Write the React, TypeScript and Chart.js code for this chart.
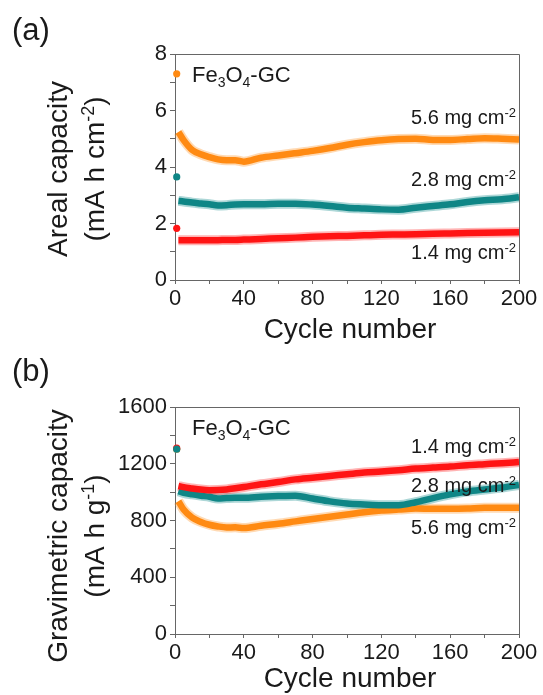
import React, { useEffect, useRef } from 'react';
import { Chart, registerables } from 'chart.js';

Chart.register(...registerables);

// ---------------- data ----------------
const cycles = [2, 5, 10, 15, 20, 25, 30, 35, 40, 50, 60, 70, 80, 90, 100, 110, 120, 130, 140, 150, 160, 170, 180, 190, 200];
const firstCycle = 1;

// Areal capacity (mA h cm-2)
const areal56 = [5.24, 4.95, 4.6, 4.45, 4.35, 4.27, 4.24, 4.24, 4.19, 4.33, 4.41, 4.49, 4.57, 4.67, 4.79, 4.88, 4.95, 4.99, 5.0, 4.96, 4.96, 4.99, 5.02, 5.0, 4.97];
const areal28 = [2.8, 2.78, 2.74, 2.71, 2.68, 2.64, 2.65, 2.67, 2.68, 2.68, 2.7, 2.7, 2.67, 2.62, 2.56, 2.53, 2.5, 2.49, 2.56, 2.62, 2.68, 2.76, 2.82, 2.86, 2.93];
const areal14 = [1.41, 1.41, 1.41, 1.41, 1.41, 1.41, 1.42, 1.42, 1.43, 1.45, 1.48, 1.5, 1.53, 1.55, 1.56, 1.58, 1.6, 1.61, 1.62, 1.64, 1.65, 1.66, 1.67, 1.68, 1.69];
const arealFirst = [7.3, 3.65, 1.83]; // 5.6, 2.8, 1.4 mg cm-2

// Gravimetric capacity (mA h g-1)
const grav56 = [936, 877, 820, 790, 770, 758, 751, 752, 747, 763, 777, 794, 811, 826, 842, 858, 870, 877, 884, 882, 882, 884, 889, 889, 889];
const grav28 = [1007, 995, 984, 975, 967, 955, 958, 960, 960, 967, 972, 975, 955, 935, 920, 913, 908, 908, 929, 958, 984, 1005, 1019, 1032, 1050];
const grav14 = [1043, 1035, 1026, 1018, 1014, 1015, 1019, 1027, 1036, 1055, 1071, 1090, 1102, 1114, 1126, 1138, 1145, 1154, 1166, 1173, 1180, 1190, 1197, 1204, 1212];
const gravFirst = [1303, 1303, 1310]; // 5.6, 2.8, 1.4 mg cm-2

const loadings = ['5.6', '2.8', '1.4'];
const xTickLabels = [0, 40, 80, 120, 160, 200];
const arealTickLabels = [0, 2, 4, 6, 8];
const gravTickLabels = [0, 400, 800, 1200, 1600];

// ---------------- style ----------------
const FONT = '"Liberation Sans", Arial, Helvetica, sans-serif';
const C_ORANGE = '#FF8A12';
const C_TEAL = '#0F8686';
const C_RED = '#FF1414';
const H_ORANGE = 'rgba(255,150,40,0.35)';
const H_TEAL = 'rgba(20,140,140,0.35)';
const H_RED = 'rgba(255,40,40,0.35)';
const AXIS = '#666666';
const TEXT = '#1a1a1a';

type Seg = { t: string; s?: 'sup' | 'sub' };

function drawRich(ctx: CanvasRenderingContext2D, segs: Seg[], x: number, y: number, size: number, align: 'left' | 'right' | 'center') {
  const small = Math.round(size * 0.64);
  const fontFor = (s: Seg) => `${s.s ? small : size}px ${FONT}`;
  let total = 0;
  const widths = segs.map((s) => {
    ctx.font = fontFor(s);
    const w = ctx.measureText(s.t).width;
    total += w;
    return w;
  });
  let cx = align === 'left' ? x : align === 'right' ? x - total : x - total / 2;
  ctx.textAlign = 'left';
  ctx.textBaseline = 'alphabetic';
  segs.forEach((s, i) => {
    ctx.font = fontFor(s);
    const dy = s.s === 'sup' ? -size * 0.36 : s.s === 'sub' ? size * 0.22 : 0;
    ctx.fillText(s.t, cx, y + dy);
    cx += widths[i];
  });
}

type Series = { key: string; data: number[]; first: number; color: string; halo: string };
type PanelSpec = {
  tag: string;
  top: number;
  height: number;
  plotTop: number;
  plotBottom: number;
  yMax: number;
  yStep: number;
  yTicks: number[];
  series: Series[];
  title1: Seg[];
  title2: Seg[];
  titleCY: number;
  labels: { text: string; baseline: number }[];
  xTitleBaseline: number;
  tagBaseline: number;
};

const panelA: PanelSpec = {
  tag: '(a)',
  top: 0,
  height: 350,
  plotTop: 54,
  plotBottom: 280,
  yMax: 8,
  yStep: 1,
  yTicks: arealTickLabels,
  series: [
    { key: '5.6', data: areal56, first: arealFirst[0], color: C_ORANGE, halo: H_ORANGE },
    { key: '2.8', data: areal28, first: arealFirst[1], color: C_TEAL, halo: H_TEAL },
    { key: '1.4', data: areal14, first: arealFirst[2], color: C_RED, halo: H_RED },
  ],
  title1: [{ t: 'Areal capacity' }],
  title2: [{ t: '(mA h cm' }, { t: '-2', s: 'sup' }, { t: ')' }],
  titleCY: 169,
  labels: [
    { text: loadings[0], baseline: 124 },
    { text: loadings[1], baseline: 186 },
    { text: loadings[2], baseline: 259 },
  ],
  xTitleBaseline: 338,
  tagBaseline: 40,
};

const panelB: PanelSpec = {
  tag: '(b)',
  top: 340,
  height: 355,
  plotTop: 67,
  plotBottom: 294,
  yMax: 1600,
  yStep: 200,
  yTicks: gravTickLabels,
  series: [
    { key: '5.6', data: grav56, first: gravFirst[0], color: C_ORANGE, halo: H_ORANGE },
    { key: '2.8', data: grav28, first: gravFirst[1], color: C_TEAL, halo: H_TEAL },
    { key: '1.4', data: grav14, first: gravFirst[2], color: C_RED, halo: H_RED },
  ],
  title1: [{ t: 'Gravimetric capacity' }],
  title2: [{ t: '(mA h g' }, { t: '-1', s: 'sup' }, { t: ')' }],
  titleCY: 196,
  labels: [
    { text: loadings[2], baseline: 113 },
    { text: loadings[1], baseline: 152 },
    { text: loadings[0], baseline: 194 },
  ],
  xTitleBaseline: 347,
  tagBaseline: 41,
};

function Panel({ spec }: { spec: PanelSpec }) {
  const ref = useRef<HTMLCanvasElement | null>(null);

  useEffect(() => {
    const canvas = ref.current;
    if (!canvas) return;

    const byKey = (k: string) => spec.series.find((s) => s.key === k) as Series;
    // index 0 is drawn on top in Chart.js
    const pointOrder = ['2.8', '1.4', '5.6'];
    const lineOrder = ['1.4', '2.8', '5.6'];

    const datasets: any[] = [];
    pointOrder.forEach((k) => {
      const s = byKey(k);
      datasets.push({
        type: 'scatter',
        data: [{ x: firstCycle, y: s.first }],
        backgroundColor: s.color,
        borderColor: s.color,
        pointRadius: 3.6,
        borderWidth: 0,
        clip: false,
      });
    });
    lineOrder.forEach((k) => {
      const s = byKey(k);
      datasets.push({
        type: 'line',
        data: cycles.map((c, i) => ({ x: c, y: s.data[i] })),
        borderColor: s.color,
        backgroundColor: s.color,
        borderWidth: 6.5,
        pointRadius: 0,
        tension: 0.35,
        cubicInterpolationMode: 'monotone',
        clip: false,
      });
    });
    lineOrder.forEach((k) => {
      const s = byKey(k);
      datasets.push({
        type: 'line',
        data: cycles.map((c, i) => ({ x: c, y: s.data[i] })),
        borderColor: s.halo,
        backgroundColor: s.halo,
        borderWidth: 10,
        pointRadius: 0,
        tension: 0.35,
        cubicInterpolationMode: 'monotone',
        clip: false,
      });
    });

    const textPlugin = {
      id: 'panelText',
      afterDraw(chart: any) {
        const ctx: CanvasRenderingContext2D = chart.ctx;
        const a = chart.chartArea;
        ctx.save();
        // top and right frame
        ctx.strokeStyle = AXIS;
        ctx.lineWidth = 1;
        ctx.beginPath();
        const t = Math.round(a.top) + 0.5;
        const r = Math.round(a.right) + 0.5;
        ctx.moveTo(Math.round(a.left), t);
        ctx.lineTo(r, t);
        ctx.lineTo(r, Math.round(a.bottom) + 0.5);
        ctx.stroke();

        ctx.fillStyle = TEXT;
        drawRich(ctx, [{ t: spec.tag }], 12, spec.tagBaseline, 31, 'left');
        drawRich(ctx, [{ t: 'Fe' }, { t: '3', s: 'sub' }, { t: 'O' }, { t: '4', s: 'sub' }, { t: '-GC' }], 192, a.top + 28, 22, 'left');
        spec.labels.forEach((l) => {
          drawRich(ctx, [{ t: l.text + ' mg cm' }, { t: '-2', s: 'sup' }], a.right - 3, l.baseline, 20, 'right');
        });
        drawRich(ctx, [{ t: 'Cycle number' }], (a.left + a.right) / 2 + 3, spec.xTitleBaseline, 28, 'center');
        ctx.save();
        ctx.translate(67, spec.titleCY);
        ctx.rotate(-Math.PI / 2);
        drawRich(ctx, spec.title1, 0, 0, 28, 'center');
        ctx.restore();
        ctx.save();
        ctx.translate(104, spec.titleCY);
        ctx.rotate(-Math.PI / 2);
        drawRich(ctx, spec.title2, 0, 0, 28, 'center');
        ctx.restore();
        ctx.restore();
      },
    };

    const chart = new Chart(canvas, {
      type: 'scatter',
      data: { datasets },
      options: {
        animation: false,
        responsive: false,
        maintainAspectRatio: false,
        devicePixelRatio: 1,
        events: [],
        layout: { padding: { top: spec.plotTop, right: 24, left: 0, bottom: 0 } },
        plugins: { legend: { display: false }, tooltip: { enabled: false }, title: { display: false } },
        scales: {
          x: {
            type: 'linear',
            min: 0,
            max: 200,
            afterFit: (s: any) => {
              s.height = spec.height - spec.plotBottom;
            },
            ticks: {
              stepSize: 20,
              autoSkip: false,
              maxRotation: 0,
              minRotation: 0,
              padding: 2,
              color: TEXT,
              font: { family: FONT, size: 22 },
              callback: (v: any) => (xTickLabels.includes(Number(v)) ? String(v) : ''),
            },
            grid: { drawOnChartArea: false, drawTicks: true, tickLength: 4, color: AXIS },
            border: { display: true, color: AXIS, width: 1 },
          },
          y: {
            type: 'linear',
            min: 0,
            max: spec.yMax,
            afterFit: (s: any) => {
              s.width = 175;
            },
            ticks: {
              stepSize: spec.yStep,
              autoSkip: false,
              padding: 3,
              color: TEXT,
              font: { family: FONT, size: 22 },
              callback: (v: any) => (spec.yTicks.includes(Number(v)) ? String(v) : ''),
            },
            grid: { drawOnChartArea: false, drawTicks: true, tickLength: 5, color: AXIS },
            border: { display: true, color: AXIS, width: 1 },
          },
        },
      } as any,
      plugins: [textPlugin],
    });

    return () => chart.destroy();
  }, [spec]);

  return (
    <canvas
      ref={ref}
      width={543}
      height={spec.height}
      style={{ position: 'absolute', left: 0, top: spec.top, width: 543, height: spec.height, display: 'block' }}
    />
  );
}

export default function App() {
  return (
    <div style={{ position: 'absolute', left: 0, top: 0, width: 543, height: 695, background: '#ffffff', overflow: 'hidden' }}>
      <Panel spec={panelA} />
      <Panel spec={panelB} />
    </div>
  );
}
